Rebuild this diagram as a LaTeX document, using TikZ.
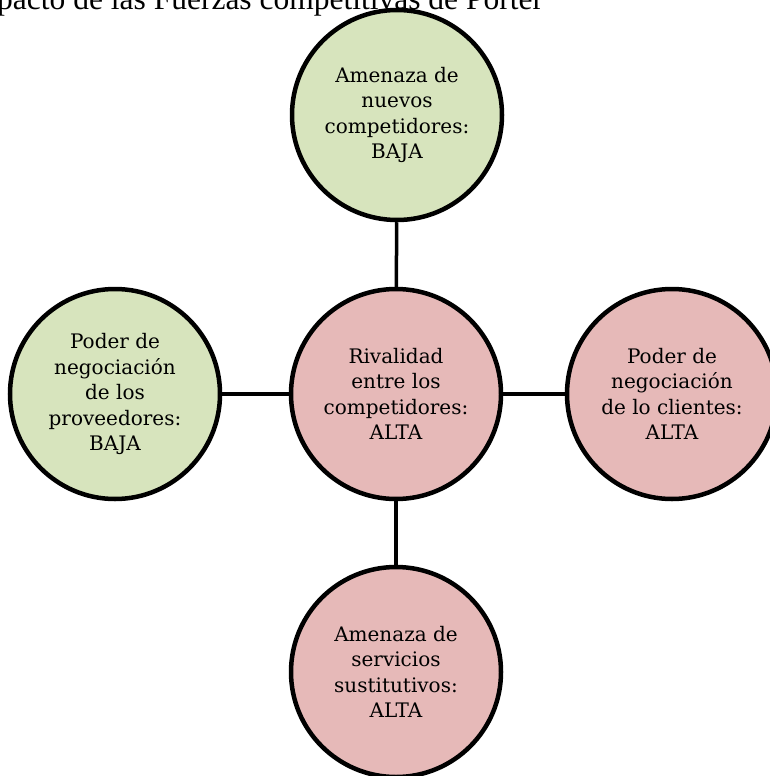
\documentclass[tikz,border=0pt]{standalone}
\usepackage{fontspec}
\setmainfont{Liberation Serif}
\newfontfamily\circfont{DejaVu Serif}
\usepackage{xcolor}
\usepackage{tikz}
\definecolor{verdebaja}{HTML}{D7E4BD}
\definecolor{rosaalta}{HTML}{E6B9B8}
\tikzset{
    fuerza/.style={draw, circle, line width=4.5pt, inner sep=0pt, minimum size=210pt,
        align=center, font=\circfont\fontsize{20}{25.5}\selectfont},
    baja/.style={fuerza, fill=verdebaja},
    alta/.style={fuerza, fill=rosaalta},
    con/.style={line width=3.5pt}
}
\begin{document}
\begin{tikzpicture}[x=1pt, y=-1pt]
    \useasboundingbox (0,0) rectangle (770,776);
    \node[anchor=base west, inner sep=0pt, font=\fontsize{31.5}{36}\selectfont] (titulo) at (-3,9.5)
        {pacto de las Fuerzas competitivas de Porter};

    \node[alta] (rival) at (396,394) {Rivalidad\\entre los\\competidores:\\ALTA};
    \node[baja] (nuevos) at (397,115) {Amenaza de\\nuevos\\competidores:\\BAJA};
    \node[baja] (prov) at (115,394) {Poder de\\negociación\\de los\\proveedores:\\BAJA};
    \node[alta] (clientes) at (672,394) {Poder de\\negociación\\de lo clientes:\\ALTA};
    \node[alta] (sustit) at (396,672) {Amenaza de\\servicios\\sustitutivos:\\ALTA};

    \draw[con] (nuevos) -- (rival);
    \draw[con] (prov) -- (rival);
    \draw[con] (rival) -- (clientes);
    \draw[con] (rival) -- (sustit);
\end{tikzpicture}
\end{document}
